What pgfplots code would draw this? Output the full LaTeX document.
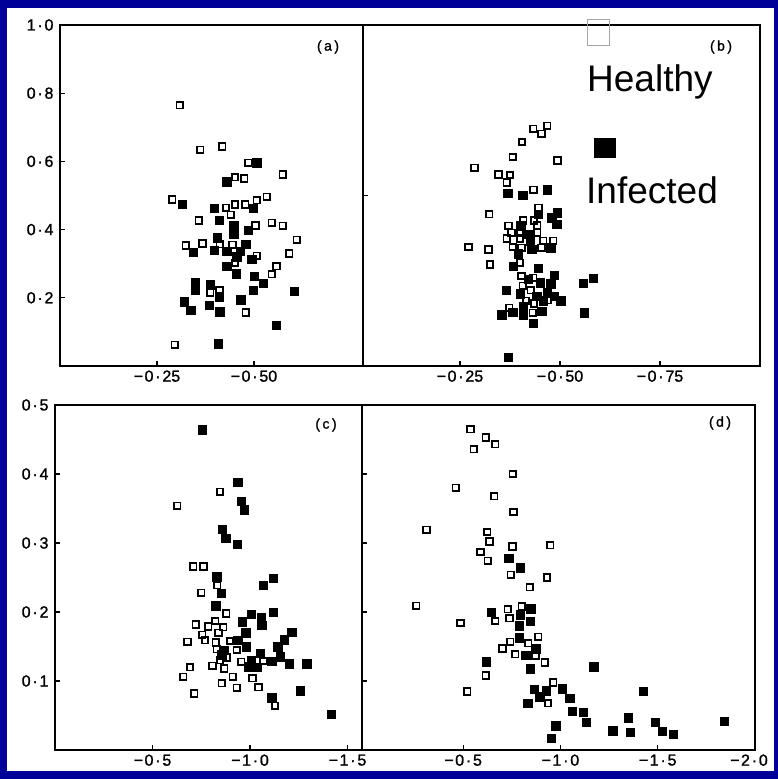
\documentclass[border=0pt]{standalone}
\usepackage{fontspec}
\setmainfont{Liberation Sans}
\newfontfamily\tickfont[FakeBold=1.2]{Liberation Sans}
\usepackage{pgfplots}
\pgfplotsset{compat=1.18}
\definecolor{bgblue}{RGB}{0,0,153}
\newcommand{\dt}{\kern1.8pt·\kern1.8pt}
\newcommand{\mn}{−\kern1.5pt}

\pgfplotsset{
  panel/.style={
    scale only axis, anchor=south west,
    x dir=reverse,
    axis line style={line width=1.5pt},
    tick align=inside, major tick length=5pt,
    tick style={line width=1.2pt, black},
    xtick pos=bottom, ytick pos=left,
    ticklabel style={font=\tickfont\fontsize{16}{16}\selectfont},
    yticklabel style={xshift=-3pt},
    xticklabel style={yshift=-1pt},
  },
  healthy/.style={only marks, mark=square, mark size=3.3pt,
    mark options={fill=white, draw=black, line width=1.7pt}},
  infected/.style={only marks, mark=square*, mark size=4.2pt,
    mark options={fill=black, draw=black}},
}

\begin{document}
\begin{tikzpicture}[x=1pt,y=1pt]
\useasboundingbox (0,0) rectangle (778,779);
\fill[bgblue] (0,0) rectangle (778,779);
\fill[white] (7,8) rectangle (774,771);

% (a)
\begin{axis}[panel, at={(60pt,413pt)}, width=303pt, height=341pt,
  xmin=-0.781, xmax=0, ymin=0, ymax=1,
  xtick={-0.25,-0.5}, xticklabels={\mn0\dt25, \mn0\dt50},
  ytick={0.2,0.4,0.6,0.8,1.0},
  yticklabels={0\dt2, 0\dt4, 0\dt6, 0\dt8, 1\dt0}]
\addplot[healthy] table {
-0.309 0.765
-0.361 0.634
-0.418 0.644
-0.485 0.596
-0.574 0.562
-0.451 0.554
-0.475 0.550
-0.289 0.488
-0.428 0.464
-0.451 0.474
-0.477 0.474
-0.507 0.486
-0.533 0.496
-0.440 0.443
-0.358 0.427
-0.504 0.412
-0.546 0.420
-0.574 0.411
-0.610 0.370
-0.324 0.353
-0.367 0.359
-0.412 0.357
-0.445 0.355
-0.507 0.323
-0.451 0.303
-0.591 0.330
-0.558 0.293
-0.546 0.269
-0.387 0.215
-0.411 0.223
-0.479 0.157
-0.296 0.062
};
\addplot[infected] table {
-0.507 0.596
-0.430 0.540
-0.315 0.474
-0.397 0.462
-0.498 0.462
-0.410 0.427
-0.448 0.413
-0.485 0.398
-0.448 0.388
-0.405 0.376
-0.344 0.334
-0.397 0.339
-0.430 0.337
-0.479 0.357
-0.464 0.337
-0.455 0.320
-0.494 0.313
-0.430 0.293
-0.454 0.271
-0.500 0.264
-0.524 0.242
-0.348 0.246
-0.348 0.223
-0.387 0.238
-0.411 0.202
-0.498 0.222
-0.604 0.220
-0.320 0.189
-0.337 0.163
-0.385 0.178
-0.412 0.159
-0.466 0.194
-0.557 0.119
-0.408 0.065
};
\end{axis}

% (b)
\begin{axis}[panel, at={(363pt,413pt)}, width=397pt, height=341pt,
  xmin=-1.0, xmax=-0.0075, ymin=0, ymax=1,
  xtick={-0.25,-0.5,-0.75}, xticklabels={\mn0\dt25, \mn0\dt50, \mn0\dt75},
  ytick={0.5}, yticklabels={}]
\addplot[healthy] table {
-0.433 0.696
-0.454 0.681
-0.468 0.704
-0.405 0.657
-0.382 0.613
-0.494 0.603
-0.286 0.581
-0.346 0.562
-0.375 0.560
-0.367 0.538
-0.434 0.517
-0.323 0.445
-0.446 0.464
-0.408 0.427
-0.435 0.427
-0.371 0.411
-0.443 0.413
-0.379 0.391
-0.400 0.391
-0.443 0.391
-0.367 0.374
-0.400 0.374
-0.458 0.367
-0.483 0.367
-0.271 0.349
-0.321 0.342
-0.382 0.349
-0.404 0.347
-0.454 0.347
-0.325 0.298
-0.400 0.303
-0.404 0.264
-0.433 0.259
-0.407 0.235
-0.427 0.222
-0.415 0.191
-0.435 0.183
-0.469 0.193
-0.373 0.171
-0.432 0.156
};
\addplot[infected] table {
-0.369 0.506
-0.407 0.501
-0.468 0.517
-0.446 0.445
-0.493 0.450
-0.479 0.435
-0.492 0.416
-0.402 0.411
-0.421 0.386
-0.425 0.367
-0.429 0.342
-0.477 0.347
-0.396 0.329
-0.383 0.293
-0.446 0.286
-0.486 0.267
-0.421 0.254
-0.477 0.241
-0.450 0.244
-0.365 0.222
-0.583 0.257
-0.558 0.242
-0.400 0.212
-0.442 0.205
-0.468 0.215
-0.485 0.205
-0.502 0.191
-0.458 0.191
-0.408 0.176
-0.354 0.150
-0.382 0.158
-0.408 0.151
-0.454 0.161
-0.433 0.125
-0.560 0.156
-0.371 0.026
};
\end{axis}

% (c)
\begin{axis}[panel, at={(55pt,29pt)}, width=307pt, height=345pt,
  xmin=-1.574, xmax=0, ymin=0, ymax=0.5,
  xtick={-0.5,-1.0,-1.5}, xticklabels={\mn0\dt5, \mn1\dt0, \mn1\dt5},
  ytick={0.1,0.2,0.3,0.4,0.5},
  yticklabels={0\dt1, 0\dt2, 0\dt3, 0\dt4, 0\dt5}]
\addplot[healthy] table {
-0.846 0.374
-0.627 0.354
-0.709 0.266
-0.761 0.266
-0.832 0.239
-0.749 0.228
-0.877 0.198
-0.722 0.182
-0.821 0.187
-0.786 0.179
-0.863 0.178
-0.755 0.167
-0.838 0.170
-0.769 0.159
-0.897 0.158
-0.680 0.157
-0.824 0.156
-0.829 0.146
-0.932 0.145
-0.880 0.134
-0.846 0.130
-0.954 0.128
-1.068 0.129
-0.807 0.122
-0.868 0.118
-0.692 0.120
-0.658 0.106
-0.911 0.106
-1.012 0.104
-0.855 0.097
-0.932 0.090
-1.043 0.091
-0.714 0.082
-1.128 0.064
};
\addplot[infected] table {
-0.755 0.464
-0.937 0.388
-0.954 0.361
-0.971 0.348
-0.858 0.320
-0.875 0.307
-0.935 0.298
-0.829 0.251
-0.851 0.227
-1.068 0.239
-1.119 0.249
-0.824 0.209
-1.119 0.200
-1.005 0.197
-1.056 0.192
-0.961 0.186
-1.060 0.181
-0.978 0.170
-1.214 0.171
-1.176 0.160
-0.937 0.159
-0.979 0.150
-1.142 0.150
-0.868 0.145
-0.855 0.138
-1.051 0.140
-1.154 0.135
-1.005 0.130
-1.111 0.129
-1.200 0.125
-1.291 0.125
-0.991 0.121
-1.034 0.120
-1.256 0.086
-1.111 0.076
-1.415 0.052
};
\end{axis}

% (d)
\begin{axis}[panel, at={(362pt,29pt)}, width=393pt, height=345pt,
  xmin=-2.0, xmax=0.02, ymin=0, ymax=0.5,
  xtick={-0.5,-1.0,-1.5,-2.0},
  xticklabels={\mn0\dt5, \mn1\dt0, \mn1\dt5, {\mn2\dt0\kern12pt}},
  ytick={0.1,0.2,0.3,0.4}, yticklabels={}]
\addplot[healthy] table {
-0.538 0.465
-0.617 0.453
-0.665 0.443
-0.555 0.436
-0.755 0.400
-0.462 0.380
-0.660 0.368
-0.758 0.345
-0.312 0.319
-0.624 0.316
-0.636 0.302
-0.753 0.295
-0.948 0.297
-0.589 0.287
-0.627 0.274
-0.745 0.254
-0.931 0.250
-0.843 0.236
-0.258 0.209
-0.665 0.187
-0.729 0.204
-0.801 0.208
-0.738 0.191
-0.487 0.184
-0.885 0.164
-0.741 0.157
-0.702 0.147
-0.835 0.155
-0.767 0.139
-0.872 0.137
-0.919 0.127
-0.617 0.108
-0.521 0.085
-0.962 0.098
-0.936 0.068
};
\addplot[infected] table {
-0.733 0.278
-0.792 0.264
-0.645 0.200
-0.847 0.205
-0.792 0.196
-0.843 0.187
-0.787 0.180
-0.787 0.163
-0.872 0.147
-0.821 0.137
-0.617 0.128
-0.843 0.118
-0.865 0.088
-0.928 0.086
-1.008 0.089
-0.894 0.077
-1.047 0.075
-0.831 0.068
-0.975 0.035
-0.953 0.017
-1.170 0.121
-1.060 0.056
-1.116 0.055
-1.132 0.040
-1.269 0.028
-1.347 0.047
-1.360 0.026
-1.425 0.085
-1.488 0.040
-1.522 0.027
-1.578 0.023
-1.841 0.042
};
\end{axis}

% panel letters
\begin{scope}[font=\tickfont\fontsize{14}{14}\selectfont]
\node at (328,732) {(\kern2.5pt a\kern2.5pt)};
\node at (721,732) {(\kern2.5pt b\kern2.5pt)};
\node at (326,354) {(\kern2.5pt c\kern2.5pt)};
\node at (720,356) {(\kern2.5pt d\kern2.5pt)};
\end{scope}

% legend
\draw[gray!70, line width=0.8pt] (587,734) rectangle (609,760);
\fill[black] (594,621) rectangle (616,641);
\node[anchor=base west, inner sep=0, font=\fontsize{37}{37}\selectfont] at (587,687) {Healthy};
\node[anchor=base west, inner sep=0, font=\fontsize{37}{37}\selectfont] at (586,575) {Infected};
\end{tikzpicture}
\end{document}
